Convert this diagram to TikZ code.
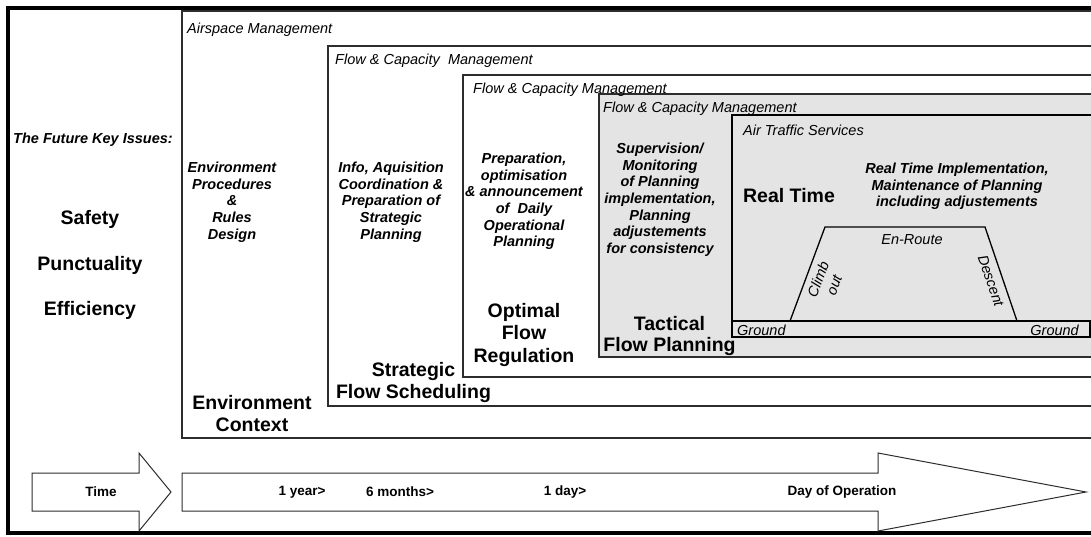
\documentclass[tikz,border=0pt]{standalone}
\usepackage{fontspec}
\setmainfont{Liberation Sans}
\definecolor{panel}{RGB}{228,228,228}
\definecolor{edge}{RGB}{45,45,45}
\begin{document}
\begin{tikzpicture}[x=1pt,y=-1pt,
  boxline/.style={draw=edge,line width=1.3pt},
  lbl/.style={font=\fontsize{14.5}{16.6}\selectfont\itshape,inner sep=0pt,anchor=base west},
  body/.style={font=\fontsize{14.5}{16.6}\selectfont\bfseries\itshape,align=center,inner sep=0pt,anchor=north},
  big/.style={font=\fontsize{19.5}{22.5}\selectfont\bfseries,align=center,inner sep=0pt,anchor=north},
  issue/.style={font=\fontsize{19.5}{22.5}\selectfont\bfseries,inner sep=0pt,anchor=base},
  tl/.style={font=\fontsize{13.5}{16}\selectfont\bfseries,inner sep=0pt,anchor=center},
  arrowshape/.style={draw=edge,line width=1pt,fill=white}]
\useasboundingbox (0,0) rectangle (1091,536);
\fill[white] (0,0) rectangle (1091,536);

% nested boxes
\draw[boxline,fill=white] (182,11) rectangle (1110,438);
\draw[boxline,fill=white] (328,46) rectangle (1110,406);
\draw[boxline,fill=white] (463,75) rectangle (1110,377);
\draw[boxline,fill=panel] (599,94) rectangle (1110,357);
\draw[boxline,draw=black,fill=panel] (732,115) rectangle (1110,337);

% ground strip and flight profile
\draw[line width=1.3pt,draw=black] (732,321) rectangle (1090,337);
\coordinate (g1) at (790,321);
\coordinate (c1) at (825,227);
\coordinate (c2) at (985,227);
\coordinate (g2) at (1017,321);
\draw[line width=1.3pt,draw=black] (g1) -- (c1) -- (c2) -- (g2);

% outer frame
\draw[line width=4pt,draw=black,line cap=butt] (1110,8) -- (8,8) -- (8,533) -- (1110,533);

% box labels
\node[lbl] (am) at (187,33) {Airspace Management};
\node[lbl] (fc1) at (335,64) {Flow \& Capacity\ \ Management};
\node[lbl] (fc2) at (473,93) {Flow \& Capacity Management};
\node[lbl] (fc3) at (603,112) {Flow \& Capacity Management};
\node[lbl] (ats) at (743,135) {Air Traffic Services};

% left column
\node[font=\fontsize{14.5}{16.6}\selectfont\bfseries\itshape,inner sep=0pt,anchor=base] (fki) at (93,143) {The Future Key Issues:};
\node[issue] (safety) at (90,224) {Safety};
\node[issue] (punct) at (90,270) {Punctuality};
\node[issue] (eff) at (90,315) {Efficiency};

% descriptive blocks
\node[body] (envp) at (232,162) {Environment\\Procedures\\\&\\Rules\\Design};
\node[body] (info) at (391,162) {Info, Aquisition\\Coordination \&\\Preparation of\\Strategic\\Planning};
\node[body] (prep) at (524,153) {Preparation,\\optimisation\\\& announcement\\of\ \ Daily\\Operational\\Planning};
\node[body] (sup) at (660,143) {Supervision/\\Monitoring\\of Planning\\implementation,\\Planning\\adjustements\\for consistency};
\node[body] (rti) at (957,163) {Real Time Implementation,\\Maintenance of Planning\\including adjustements};

% big titles
\node[big] (envc) at (252,395) {Environment\\Context};
\node[big] (sfs) at (413.5,362) {Strategic\\Flow Scheduling};
\node[big] (ofr) at (524,303) {Optimal\\Flow\\Regulation};
\node[big,font=\fontsize{19.5}{21}\selectfont\bfseries] (tfp) at (669.5,316) {Tactical\\Flow Planning};
\node[issue] (rt) at (789,202) {Real Time};

% flight phases
\node[font=\fontsize{14.5}{16.6}\selectfont\itshape,inner sep=0pt,anchor=base] (enr) at (912,244) {En-Route};
\node[font=\fontsize{14.5}{17}\selectfont\itshape,inner sep=0pt,align=center,rotate=69.6] (climb) at (826,282) {Climb\\out};
\node[font=\fontsize{14.5}{16.6}\selectfont\itshape,inner sep=0pt,rotate=-71] (desc) at (991,281) {Descent};
\node[lbl] (gl) at (737,335) {Ground};
\node[lbl,anchor=base east] (gr) at (1079,335) {Ground};

% time arrows
\draw[arrowshape] (32,473) -- (139,473) -- (139,453) -- (171,492) -- (139,531) -- (139,511) -- (32,511) -- cycle;
\draw[arrowshape] (182,473) -- (878,473) -- (878,453) -- (1086,492) -- (878,531) -- (878,511) -- (182,511) -- cycle;
\node[tl] (time) at (101,492) {Time};
\node[tl] (y1) at (302,492) {1 year>};
\node[tl] (m6) at (400,492) {6 months>};
\node[tl] (d1) at (565,492) {1 day>};
\node[tl] (doo) at (842,492) {Day of Operation};
\end{tikzpicture}
\end{document}
